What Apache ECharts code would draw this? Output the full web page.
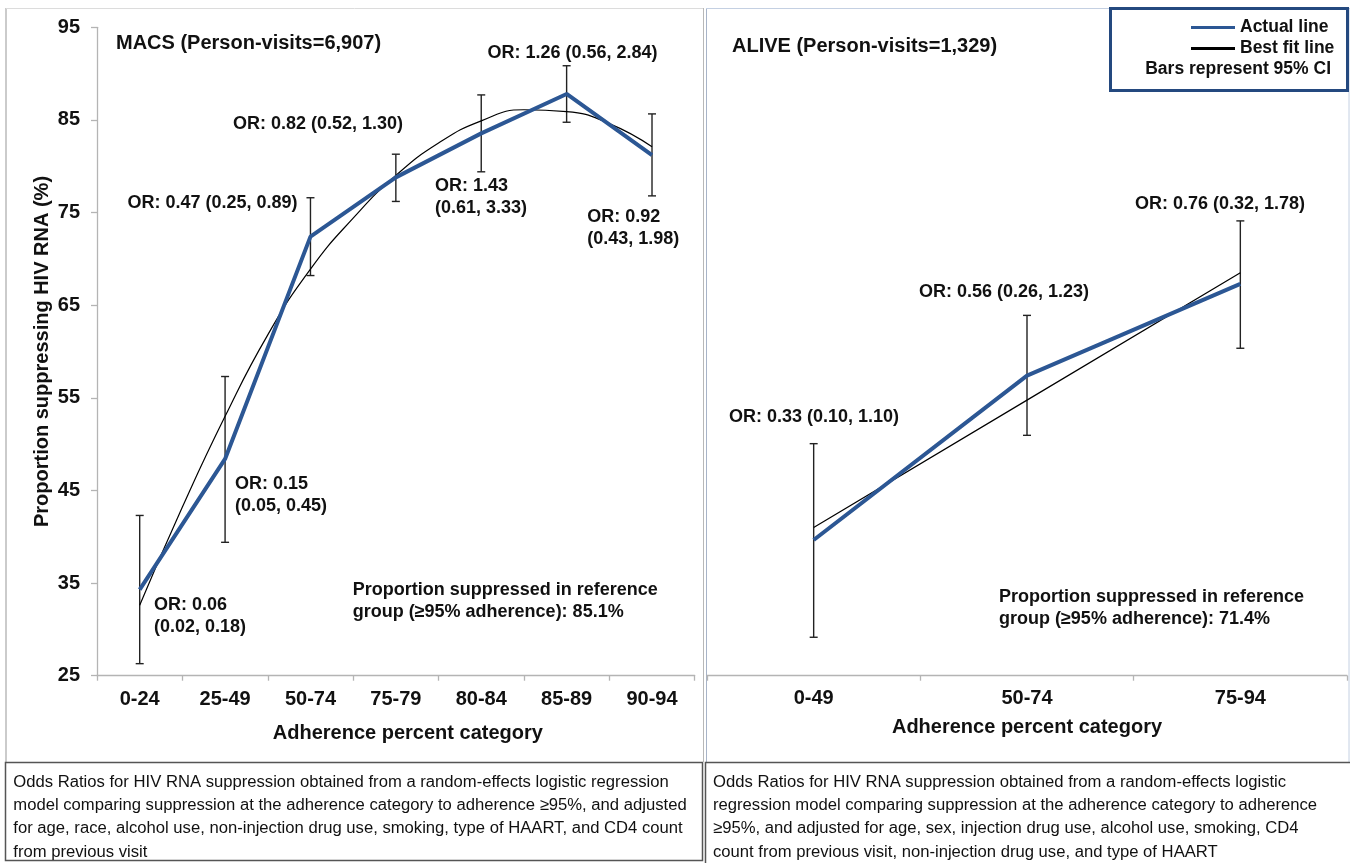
<!DOCTYPE html>
<html>
<head>
<meta charset="utf-8">
<script src="https://cdn.jsdelivr.net/npm/echarts@6/dist/echarts.min.js"></script>
<style>
html,body{margin:0;padding:0;background:#fff;}
#chart{width:1350px;height:863px;}
</style>
</head>
<body>
<div id="chart"></div>
<script>
// ---------- DATA ----------
const macsCategories = ['0-24','25-49','50-74','75-79','80-84','85-89','90-94'];
const macsActual = [34.3, 48.4, 72.4, 78.8, 83.55, 87.8, 81.2];
const macsCILow  = [26.3, 39.4, 68.2, 76.2, 79.4, 84.75, 76.8];
const macsCIHigh = [42.3, 57.3, 76.6, 81.3, 87.7, 90.85, 85.65];
// best-fit curve read at half-category steps (position index, value)
const macsFitPos = [0, 0.5, 1, 1.5, 2, 2.5, 3, 3.5, 4, 4.5, 5, 5.5, 6];
const macsFitVal = [32.6, 43.2, 53.0, 61.8, 68.9, 74.4, 79.0, 82.5, 84.9, 86.1, 85.9, 84.6, 82.1];

const aliveCategories = ['0-49','50-74','75-94'];
const aliveActual = [39.65, 57.4, 67.3];
const aliveCILow  = [29.15, 50.95, 60.35];
const aliveCIHigh = [50.05, 63.9, 74.1];
const aliveFit    = [41.0, 54.75, 68.5];

const yTicks = {min: 25, max: 95, interval: 10};

const macsORLabels = [
  {text: 'OR: 0.06\n(0.02, 0.18)', x: 154, y: 605},
  {text: 'OR: 0.15\n(0.05, 0.45)', x: 235, y: 484},
  {text: 'OR: 0.47 (0.25, 0.89)', x: 127.5, y: 202.7},
  {text: 'OR: 0.82 (0.52, 1.30)', x: 233, y: 124},
  {text: 'OR: 1.43\n(0.61, 3.33)', x: 435, y: 186},
  {text: 'OR: 1.26 (0.56, 2.84)', x: 487.5, y: 53.3},
  {text: 'OR: 0.92\n(0.43, 1.98)', x: 587.3, y: 217.3}
];
const aliveORLabels = [
  {text: 'OR: 0.33 (0.10, 1.10)', x: 729, y: 417},
  {text: 'OR: 0.56 (0.26, 1.23)', x: 919, y: 292},
  {text: 'OR: 0.76 (0.32, 1.78)', x: 1135, y: 204}
];
const leftNote = ['Odds Ratios for HIV RNA suppression obtained from a random-effects logistic regression',
  'model comparing suppression at the adherence category to adherence \u226595%, and adjusted',
  'for age, race, alcohol use, non-injection drug use, smoking, type of HAART, and CD4 count',
  'from previous visit'];
const rightNote = ['Odds Ratios for HIV RNA suppression obtained from a random-effects logistic',
  'regression model comparing suppression at the adherence category to adherence',
  '\u226595%, and adjusted for age, sex, injection drug use, alcohol use, smoking, CD4',
  'count from previous visit, non-injection drug use, and type of HAART'];

// ---------- STYLE ----------
const FONT = '"Liberation Sans", Arial, Helvetica, sans-serif';
const BLUE = '#2c5794';
const AXIS_GRAY = '#b4b4b4';

const chart = echarts.init(document.getElementById('chart'), null, {renderer: 'canvas'});

function errorBarRender(params, api) {
  const xi = api.value(0);
  const lo = api.coord([xi, api.value(1)]);
  const hi = api.coord([xi, api.value(2)]);
  const cap = 4;
  const st = {stroke: '#222', lineWidth: 1.4};
  return {
    type: 'group',
    children: [
      {type: 'line', shape: {x1: lo[0], y1: lo[1], x2: hi[0], y2: hi[1]}, style: st},
      {type: 'line', shape: {x1: lo[0] - cap, y1: lo[1], x2: lo[0] + cap, y2: lo[1]}, style: st},
      {type: 'line', shape: {x1: hi[0] - cap, y1: hi[1], x2: hi[0] + cap, y2: hi[1]}, style: st}
    ]
  };
}

function boldText(t, x, y, size, lh) {
  return {
    type: 'text', x: x, y: y - lh / 2, silent: true, z: 10,
    style: {text: t, fill: '#111', font: 'bold ' + size + 'px ' + FONT,
      lineHeight: lh, align: 'left', verticalAlign: 'top', textAlign: 'left', textVerticalAlign: 'top'}
  };
}

const graphics = [];
// panel borders
graphics.push({type: 'line', shape: {x1: 6, y1: 8, x2: 6, y2: 762}, style: {stroke: '#a8a8a8', lineWidth: 1.2}, silent: true});
graphics.push({type: 'line', shape: {x1: 6, y1: 8.5, x2: 703, y2: 8.5}, style: {stroke: '#dcdcdc', lineWidth: 1}, silent: true});
graphics.push({type: 'line', shape: {x1: 703.5, y1: 8, x2: 703.5, y2: 762}, style: {stroke: '#b8b8b8', lineWidth: 1}, silent: true});
graphics.push({type: 'line', shape: {x1: 706.5, y1: 8, x2: 706.5, y2: 762}, style: {stroke: '#a8b4c8', lineWidth: 1}, silent: true});
graphics.push({type: 'line', shape: {x1: 706, y1: 8.5, x2: 1350, y2: 8.5}, style: {stroke: '#c4d0e2', lineWidth: 1}, silent: true});
graphics.push({type: 'line', shape: {x1: 1349, y1: 8, x2: 1349, y2: 762}, style: {stroke: '#c4d0e2', lineWidth: 1}, silent: true});
// legend frame
graphics.push({type: 'rect', shape: {x: 1110.5, y: 8.5, width: 237, height: 82}, style: {fill: '#fff', stroke: '#24497f', lineWidth: 3}, z: 5, silent: true});
graphics.push({type: 'text', x: 1331, y: 69.3, z: 20, silent: true,
  style: {text: 'Bars represent 95% CI', fill: '#111', font: 'bold 17.5px ' + FONT,
    align: 'right', verticalAlign: 'middle', textAlign: 'right', textVerticalAlign: 'middle'}});
// titles & notes
graphics.push(boldText('MACS (Person-visits=6,907)', 116, 43.3, 20, 22));
graphics.push(boldText('ALIVE (Person-visits=1,329)', 732, 46.7, 20, 22));
graphics.push(boldText('Proportion suppressed in reference\ngroup (\u226595% adherence): 85.1%', 352.7, 590, 18, 21.7));
graphics.push(boldText('Proportion suppressed in reference\ngroup (\u226595% adherence): 71.4%', 999, 597, 18, 21.7));
macsORLabels.concat(aliveORLabels).forEach(function (l) {
  graphics.push(boldText(l.text, l.x, l.y, 18, 21.8));
});
// bottom boxes
graphics.push({type: 'rect', shape: {x: 5.5, y: 762.5, width: 697, height: 98}, style: {fill: 'none', stroke: '#555', lineWidth: 1.5}, silent: true});
graphics.push({type: 'rect', shape: {x: 705.5, y: 762.5, width: 646, height: 102}, style: {fill: 'none', stroke: '#555', lineWidth: 1.5}, silent: true});
graphics.push({type: 'text', x: 13.3, y: 770.5, silent: true,
  style: {text: leftNote.join('\n'), fill: '#111', font: '16.65px ' + FONT, lineHeight: 23.3,
    align: 'left', verticalAlign: 'top', textAlign: 'left', textVerticalAlign: 'top'}});
graphics.push({type: 'text', x: 713, y: 770.5, silent: true,
  style: {text: rightNote.join('\n'), fill: '#111', font: '16.65px ' + FONT, lineHeight: 23.3,
    align: 'left', verticalAlign: 'top', textAlign: 'left', textVerticalAlign: 'top'}});

const labelStyle = {color: '#111', fontFamily: FONT, fontWeight: 'bold', fontSize: 20, lineHeight: 20};

const option = {
  backgroundColor: '#fff',
  animation: false,
  textStyle: {fontFamily: FONT},
  grid: [
    {left: 97, top: 27.3, width: 597.7, height: 648.4, containLabel: false},
    {left: 707, top: 27.3, width: 640, height: 648.4, containLabel: false}
  ],
  legend: {
    data: [
      {name: 'Actual line', icon: 'rect', itemStyle: {color: BLUE}},
      {name: 'Best fit line', icon: 'rect', itemStyle: {color: '#000'}}
    ],
    orient: 'vertical', left: 1186, top: 12, itemWidth: 44, itemHeight: 3, itemGap: 0,
    textStyle: {color: '#111', fontFamily: FONT, fontWeight: 'bold', fontSize: 17.5, lineHeight: 21},
    z: 20
  },
  xAxis: [
    {
      type: 'category', gridIndex: 0, data: macsCategories, boundaryGap: true,
      axisLine: {lineStyle: {color: AXIS_GRAY, width: 1.3}},
      axisTick: {show: true, length: 5, lineStyle: {color: AXIS_GRAY, width: 1.3}},
      axisLabel: Object.assign({margin: 14}, labelStyle),
      name: 'Adherence percent category', nameLocation: 'middle', nameGap: 47.5,
      nameTextStyle: Object.assign({padding: [0, 0, 0, 24]}, labelStyle),
      splitLine: {show: false}
    },
    {
      type: 'category', gridIndex: 1, data: aliveCategories, boundaryGap: true,
      axisLine: {lineStyle: {color: AXIS_GRAY, width: 1.3}},
      axisTick: {show: true, length: 5, lineStyle: {color: AXIS_GRAY, width: 1.3}},
      axisLabel: Object.assign({margin: 12.5}, labelStyle),
      name: 'Adherence percent category', nameLocation: 'middle', nameGap: 42,
      nameTextStyle: labelStyle,
      splitLine: {show: false}
    },
    {
      type: 'value', gridIndex: 0, min: -0.5, max: 6.5, show: false
    }
  ],
  yAxis: [
    {
      type: 'value', gridIndex: 0, min: yTicks.min, max: yTicks.max, interval: yTicks.interval,
      axisLine: {show: true, onZero: false, lineStyle: {color: AXIS_GRAY, width: 1.3}},
      axisTick: {show: true, length: 6, lineStyle: {color: AXIS_GRAY, width: 1.3}},
      axisLabel: Object.assign({margin: 17}, labelStyle),
      splitLine: {show: false},
      name: 'Proportion suppressing HIV RNA (%)', nameLocation: 'middle', nameGap: 45,
      nameTextStyle: labelStyle
    },
    {
      type: 'value', gridIndex: 1, min: yTicks.min, max: yTicks.max, interval: yTicks.interval, show: false
    }
  ],
  series: [
    {
      type: 'custom', name: 'CI MACS', xAxisIndex: 0, yAxisIndex: 0, renderItem: errorBarRender,
      encode: {x: 0, y: [1, 2]}, z: 2,
      data: macsCategories.map(function (c, i) { return [i, macsCILow[i], macsCIHigh[i]]; })
    },
    {
      type: 'custom', name: 'CI ALIVE', xAxisIndex: 1, yAxisIndex: 1, renderItem: errorBarRender,
      encode: {x: 0, y: [1, 2]}, z: 2,
      data: aliveCategories.map(function (c, i) { return [i, aliveCILow[i], aliveCIHigh[i]]; })
    },
    {
      type: 'line', name: 'Best fit line', xAxisIndex: 2, yAxisIndex: 0, smooth: true, symbol: 'none',
      lineStyle: {color: '#000', width: 1.2}, itemStyle: {color: '#000'}, z: 3,
      data: macsFitPos.map(function (p, i) { return [p, macsFitVal[i]]; })
    },
    {
      type: 'line', name: 'Best fit line', xAxisIndex: 1, yAxisIndex: 1, symbol: 'none',
      lineStyle: {color: '#000', width: 1.2}, itemStyle: {color: '#000'}, z: 3,
      data: aliveFit
    },
    {
      type: 'line', name: 'Actual line', xAxisIndex: 0, yAxisIndex: 0, symbol: 'none',
      lineStyle: {color: BLUE, width: 4}, itemStyle: {color: BLUE}, z: 4,
      data: macsActual
    },
    {
      type: 'line', name: 'Actual line', xAxisIndex: 1, yAxisIndex: 1, symbol: 'none',
      lineStyle: {color: BLUE, width: 4}, itemStyle: {color: BLUE}, z: 4,
      data: aliveActual
    }
  ],
  graphic: graphics
};
chart.setOption(option);
</script>
</body>
</html>
